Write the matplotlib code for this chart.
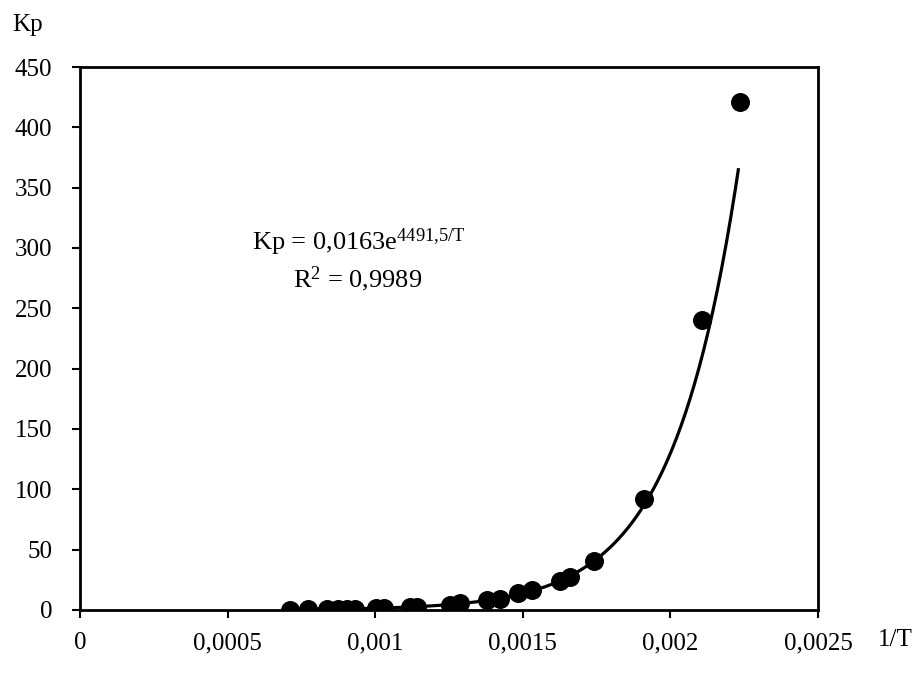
import numpy as np
import matplotlib
matplotlib.use('Agg')
import matplotlib.pyplot as plt

# Données
inv_T = [0.000711, 0.000772, 0.000837, 0.000874, 0.000904, 0.000932,
         0.001003, 0.001030, 0.001118, 0.001142, 0.001253, 0.001287,
         0.001379, 0.001423, 0.001484, 0.001531, 0.001626, 0.001660,
         0.001741, 0.001910, 0.002107, 0.002236]
kp = [0.4, 0.5, 0.7, 0.8, 0.9, 1.0,
      1.5, 1.7, 2.5, 2.8, 4.5, 5.5,
      8.0, 9.5, 14.0, 16.5, 24.0, 27.0,
      41.0, 92.0, 240.0, 421.0]

# Tendance exponentielle affichée sur le graphique
coef_a = 0.0163
coef_b = 4491.5
x_fit_min, x_fit_max = 0.000711, 0.00223

xticks = [0, 0.0005, 0.001, 0.0015, 0.002, 0.0025]
xtick_labels = ['0', '0,0005', '0,001', '0,0015', '0,002', '0,0025']
yticks = list(range(0, 451, 50))

plt.rcParams['font.family'] = ['Liberation Serif', 'DejaVu Serif']
plt.rcParams['mathtext.fontset'] = 'custom'
plt.rcParams['mathtext.rm'] = 'Liberation Serif'
plt.rcParams['mathtext.it'] = 'Liberation Serif'

fig = plt.figure(figsize=(9.23, 6.75), dpi=100)
ax = fig.add_axes([80 / 923, 1 - 610 / 675, 738 / 923, 543 / 675])

x_fit = np.linspace(x_fit_min, x_fit_max, 300)
ax.plot(x_fit, coef_a * np.exp(coef_b * x_fit), color='black', lw=2.3, zorder=2)
ax.scatter(inv_T, kp, s=160, color='black', zorder=3)

ax.set_xlim(0, 0.0025)
ax.set_ylim(0, 450)
ax.set_xticks(xticks)
ax.set_xticklabels(xtick_labels)
ax.set_yticks(yticks)
ax.tick_params(direction='out', length=6, width=1.5, labelsize=18)
ax.tick_params(axis='x', pad=10)
ax.tick_params(axis='y', pad=14)
for sp in ax.spines.values():
    sp.set_linewidth(2)

ax.text(-0.092, 1.077, 'Kp', transform=ax.transAxes, fontsize=18, ha='left', va='center')
ax.text(1.105, -0.055, '1/T', transform=ax.transAxes, fontsize=18, ha='center', va='center')

ax.text(0.000945, 305, r'Kp = 0,0163e$^{4491{,}5/T}$', fontsize=19, ha='center', va='center')
ax.text(0.000942, 274, r'R$^{2}$ = 0,9989', fontsize=19, ha='center', va='center')

fig.savefig('out.png', dpi=100)
